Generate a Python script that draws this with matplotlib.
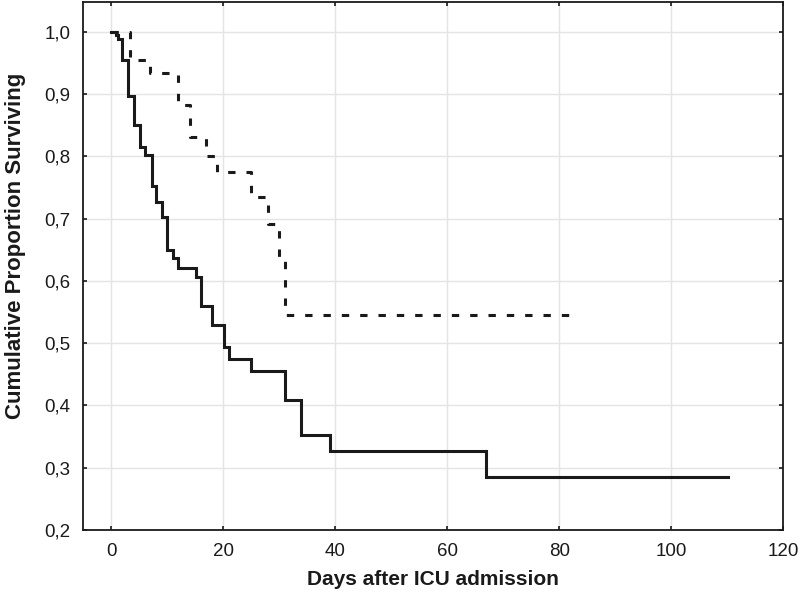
import matplotlib
matplotlib.use("Agg")
import matplotlib.pyplot as plt
from matplotlib.ticker import FuncFormatter

# Solid curve (group 1): event times and survival proportions
solid_days = [0, 0.9, 1.3, 1.9, 3.0, 4.0, 5.1, 6.0, 7.2, 8.0, 9.1, 9.9, 11.0, 12.0,
              15.2, 16.0, 18.0, 20.1, 21.0, 25.0, 31.1, 33.9, 39.1, 67.0, 110.1]
solid_surv = [1.0, 0.994, 0.988, 0.955, 0.897, 0.850, 0.815, 0.802, 0.753, 0.727, 0.702,
              0.650, 0.636, 0.620, 0.606, 0.560, 0.529, 0.494, 0.475, 0.455, 0.408,
              0.353, 0.327, 0.285, 0.285]

# Dashed curve (group 2)
dashed_days = [0, 3.3, 7.0, 12.0, 14.0, 17.0, 18.9, 24.9, 28.0, 29.9, 31.0, 83.1]
dashed_surv = [1.0, 0.955, 0.933, 0.882, 0.831, 0.801, 0.775, 0.735, 0.692, 0.638,
               0.545, 0.545]

x_ticks = [0, 20, 40, 60, 80, 100, 120]
y_ticks = [0.2, 0.3, 0.4, 0.5, 0.6, 0.7, 0.8, 0.9, 1.0]

plt.rcParams['lines.scale_dashes'] = False
tick_font = ['Liberation Sans', 'DejaVu Sans']
label_font = ['Liberation Sans', 'DejaVu Sans']

fig = plt.figure(figsize=(8, 5.98), dpi=100)
ax = fig.add_axes([0.104, 0.1137, 0.875, 0.8834])

ax.step(solid_days, solid_surv, where='post', color='#1a1a1a', lw=2.2,
        solid_joinstyle='miter', zorder=3)
ax.step(dashed_days, dashed_surv, where='post', color='#1a1a1a', lw=2.2,
        dashes=(5.3, 7.9), zorder=3)

ax.set_xlim(-5, 120)
ax.set_ylim(0.2, 1.048)
ax.set_xticks(x_ticks)
ax.set_yticks(y_ticks)
ax.yaxis.set_major_formatter(FuncFormatter(lambda v, p: f"{v:.1f}".replace('.', ',')))
ax.xaxis.set_major_formatter(FuncFormatter(lambda v, p: f"{int(v)}"))

ax.grid(True, color='#e4e4e4', lw=1.0, zorder=0)
ax.set_axisbelow(True)

for s in ax.spines.values():
    s.set_linewidth(1.3)
    s.set_color('#1a1a1a')

ax.tick_params(direction='in', length=3, width=1.2, top=True, right=True,
               pad=9, colors='#1a1a1a')
for lab in ax.get_xticklabels() + ax.get_yticklabels():
    lab.set_family(tick_font)
    lab.set_fontsize(13.5)

ax.set_xlabel('Days after ICU admission', fontsize=15, fontweight='bold',
              family=label_font, color='#1a1a1a')
ax.set_ylabel('Cumulative Proportion Surviving', fontsize=16, fontweight='bold',
              family=label_font, color='#1a1a1a')
ax.xaxis.set_label_coords(0.5, -0.075)
ax.yaxis.set_label_coords(-0.081, 0.5376)

fig.savefig('out.png', dpi=100)
